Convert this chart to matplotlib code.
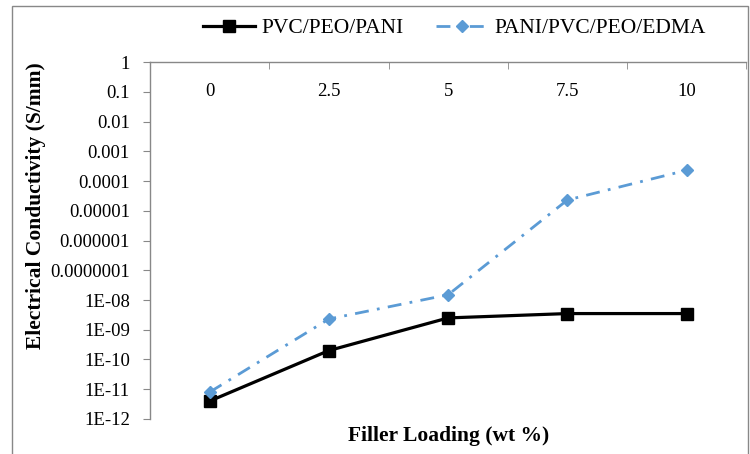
import matplotlib
matplotlib.use("Agg")
import matplotlib.pyplot as plt
from matplotlib.patches import Rectangle

plt.rcParams['font.family'] = ['Liberation Serif', 'DejaVu Serif']

categories = ["0", "2.5", "5", "7.5", "10"]
pvc_peo_pani = [4e-12, 2e-10, 2.5e-9, 3.5e-9, 3.5e-9]
pani_pvc_peo_edma = [8e-12, 2.3e-9, 1.5e-8, 2.3e-5, 2.3e-4]
ytick_values = [1, 0.1, 0.01, 0.001, 0.0001, 0.00001, 0.000001, 0.0000001,
                1e-8, 1e-9, 1e-10, 1e-11, 1e-12]
ytick_labels = ["1", "0.1", "0.01", "0.001", "0.0001", "0.00001", "0.000001",
                "0.0000001", "1E-08", "1E-09", "1E-10", "1E-11", "1E-12"]

fig = plt.figure(figsize=(7.5, 4.54), dpi=100)
ax = fig.add_axes([0.2, 0.0771, 0.795, 0.7863])

x = list(range(len(categories)))
l1, = ax.plot(x, pvc_peo_pani, color='black', lw=2.3, marker='s', markersize=8.5,
              label='PVC/PEO/PANI')
l2, = ax.plot(x, pani_pvc_peo_edma, color='#5B9BD5', lw=2.0,
              linestyle=(0, (5, 3, 1, 3)), marker='D', markersize=6.5,
              label='PANI/PVC/PEO/EDMA')

ax.set_yscale('log')
ax.set_ylim(1e-12, 1)
ax.set_yticks(ytick_values)
ax.set_yticklabels(ytick_labels)
ax.yaxis.set_minor_locator(matplotlib.ticker.NullLocator())
ax.tick_params(axis='y', which='major', direction='out', length=5, color='#888888',
               labelsize=13.5, pad=9.5)

ax.set_xlim(-0.5, len(categories) - 0.5)
ax.xaxis.tick_top()
ax.set_xticks(x)
ax.set_xticklabels(categories)
ax.set_xticks([i - 0.5 for i in range(len(categories) + 1)], minor=True)
ax.tick_params(axis='x', which='major', length=0, labelsize=13.5, pad=-27)
ax.tick_params(axis='x', which='minor', direction='in', length=5, color='#888888')

for s in ['right', 'bottom']:
    ax.spines[s].set_visible(False)
for s in ['left', 'top']:
    ax.spines[s].set_color('#888888')
    ax.spines[s].set_linewidth(1.0)

ax.set_ylabel('Electrical Conductivity (S/mm)', fontsize=15.5, fontweight='bold')
ax.yaxis.set_label_coords(-0.174, 0.599)
ax.set_xlabel('Filler Loading (wt %)', fontsize=15.5, fontweight='bold', labelpad=5)

fig.legend(handles=[l1, l2], loc='center', bbox_to_anchor=(0.606, 1 - 28 / 454),
           ncol=2, frameon=False, fontsize=15.5, handlelength=2.4, columnspacing=1.5,
           handletextpad=0.3)

fig.patches.append(Rectangle((12 / 750, -0.05), 736 / 750, 1.05 - 6 / 454,
                             transform=fig.transFigure, fill=False,
                             edgecolor='#888888', lw=1.0))

fig.savefig('out.png', dpi=100)
